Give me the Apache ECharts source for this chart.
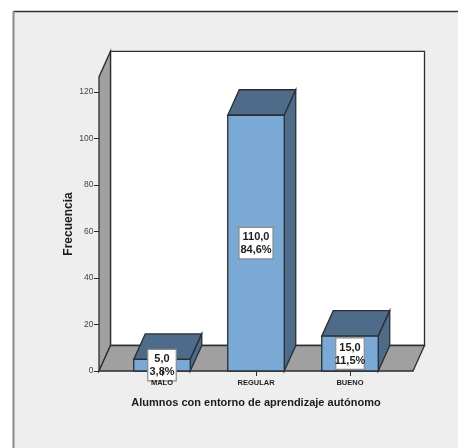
<!DOCTYPE html>
<html>
<head>
<meta charset="utf-8">
<style>html,body{margin:0;padding:0;background:#fff}#chart{width:458px;height:448px}</style>
<script src="https://cdn.jsdelivr.net/npm/echarts@6/dist/echarts.min.js"></script>
</head>
<body>
<div id="chart"></div>
<script>
const categories = ['MALO', 'REGULAR', 'BUENO'];
const frequencies = [5, 110, 15];
const percentages = [3.8, 84.6, 11.5];
const tickValues = [0, 20, 40, 60, 80, 100, 120];
const wallTopValue = 126.5;

// Oblique projection used for the box depth, in pixels
const DEPTH_X = 11.5;
const DEPTH_Y = -25.5;
const BAR_WIDTH = 56.5;
const FLOOR_LEFT = 99;
const FLOOR_RIGHT = 413;

const LINE = '#2b2f33';
const FACE = '#7ba9d6';
const SHADE = '#4e6b89';
const WALL = '#a0a0a0';
const FONT = '"Liberation Sans", Arial, sans-serif';

const comma = (v) => v.toFixed(1).replace('.', ',');

function poly(points, fill, stroke, z2, width) {
  return {
    type: 'polygon',
    z2: z2,
    shape: { points: points },
    style: { fill: fill, stroke: stroke || LINE, lineWidth: width || 1.3, lineJoin: 'miter' }
  };
}

// Back wall, side wall and floor of the 3D frame
function renderFrame(params, api) {
  const y0 = api.coord([0, 0])[1];
  const yTop = api.coord([0, wallTopValue])[1];
  const l = FLOOR_LEFT, r = FLOOR_RIGHT, dx = DEPTH_X, dy = DEPTH_Y;
  return {
    type: 'group',
    children: [
      poly([[l + dx, yTop + dy], [r + dx, yTop + dy], [r + dx, y0 + dy], [l + dx, y0 + dy]], '#ffffff', LINE, 1),
      poly([[l, yTop], [l + dx, yTop + dy], [l + dx, y0 + dy], [l, y0]], WALL, LINE, 2),
      poly([[l, y0], [l + dx, y0 + dy], [r + dx, y0 + dy], [r, y0]], WALL, LINE, 2)
    ]
  };
}

// One box: front face, top and right side
function renderBar(params, api) {
  const p = api.coord([api.value(0), api.value(1)]);
  const base = api.coord([api.value(0), 0]);
  const x1 = p[0] - BAR_WIDTH / 2, x2 = p[0] + BAR_WIDTH / 2;
  const yT = p[1], yB = base[1], dx = DEPTH_X, dy = DEPTH_Y;
  return {
    type: 'group',
    children: [
      poly([[x1, yT], [x1 + dx, yT + dy], [x2 + dx, yT + dy], [x2, yT]], SHADE, LINE, 3),
      poly([[x2, yT], [x2 + dx, yT + dy], [x2 + dx, yB + dy], [x2, yB]], SHADE, LINE, 3),
      poly([[x1, yT], [x2, yT], [x2, yB], [x1, yB]], FACE, LINE, 4)
    ]
  };
}

// Boxed value and percentage centred on the front face
function renderNote(params, api) {
  const p = api.coord([api.value(0), api.value(1)]);
  const base = api.coord([api.value(0), 0]);
  const i = params.dataIndex;
  const cy = (p[1] + base[1]) / 2;
  const w = comma(frequencies[i]).length > 4 ? 34 : 28.5;
  const h = 31.5;
  return {
    type: 'group',
    children: [
      {
        type: 'rect',
        shape: { x: p[0] - w / 2, y: cy - h / 2, width: w, height: h },
        style: { fill: '#ffffff', stroke: '#8a8a8a', lineWidth: 1.2 }
      },
      {
        type: 'text',
        style: {
          x: p[0], y: cy + 0.5,
          text: comma(frequencies[i]) + '\n' + comma(percentages[i]) + '%',
          align: 'center', verticalAlign: 'middle',
          font: 'bold 11px ' + FONT,
          lineHeight: 13, fill: '#1c1c1c'
        }
      }
    ]
  };
}

const barData = categories.map((c, i) => [i, frequencies[i]]);

const chart = echarts.init(document.getElementById('chart'), null, { renderer: 'canvas' });
chart.setOption({
  animation: false,
  graphic: [{
    type: 'rect',
    silent: true,
    z: -10,
    shape: { x: 13.5, y: 11.5, width: 460, height: 460 },
    style: { fill: '#eeeeee', stroke: null }
  }, {
    type: 'line',
    silent: true,
    z: -9,
    shape: { x1: 13.5, y1: 11.5, x2: 458, y2: 11.5 },
    style: { stroke: '#333333', lineWidth: 1.5 }
  }, {
    type: 'line',
    silent: true,
    z: -9,
    shape: { x1: 13.5, y1: 11, x2: 13.5, y2: 448 },
    style: { stroke: '#8c8c8c', lineWidth: 2 }
  }],
  grid: { left: 115, top: 92, width: 282, height: 279, containLabel: false },
  xAxis: {
    type: 'category',
    z: 10,
    data: categories,
    name: 'Alumnos con entorno de aprendizaje autónomo',
    nameLocation: 'middle',
    nameGap: 26,
    nameTextStyle: { color: '#1c1c1c', fontSize: 11, fontWeight: 'bold', fontFamily: FONT },
    axisLine: { show: false },
    axisTick: { show: true, alignWithLabel: true, length: 5, lineStyle: { color: LINE, width: 1 } },
    axisLabel: { color: '#222222', fontSize: 7.5, fontWeight: 'bold', fontFamily: FONT, margin: 7.5 }
  },
  yAxis: {
    type: 'value',
    z: 10,
    min: 0,
    max: tickValues[tickValues.length - 1],
    interval: 20,
    offset: 16,
    name: 'Frecuencia',
    nameLocation: 'middle',
    nameGap: 24.5,
    nameMoveOverlap: false,
    nameTextStyle: { color: '#1c1c1c', fontSize: 12, fontWeight: 'bold', fontFamily: FONT, padding: [0, 0, 0, 15] },
    axisLine: { show: false },
    axisTick: { show: true, length: 5, lineStyle: { color: LINE, width: 1 } },
    axisLabel: { color: '#444444', fontSize: 8.5, fontFamily: FONT, margin: 5.5 },
    splitLine: { show: false }
  },
  series: [
    { type: 'custom', clip: false, z: 1, renderItem: renderFrame, data: [[0, 0]], silent: true },
    { type: 'custom', clip: false, z: 2, renderItem: renderBar, data: barData, silent: true },
    { type: 'custom', clip: false, z: 4, renderItem: renderNote, data: barData, silent: true }
  ]
});
</script>
</body>
</html>
